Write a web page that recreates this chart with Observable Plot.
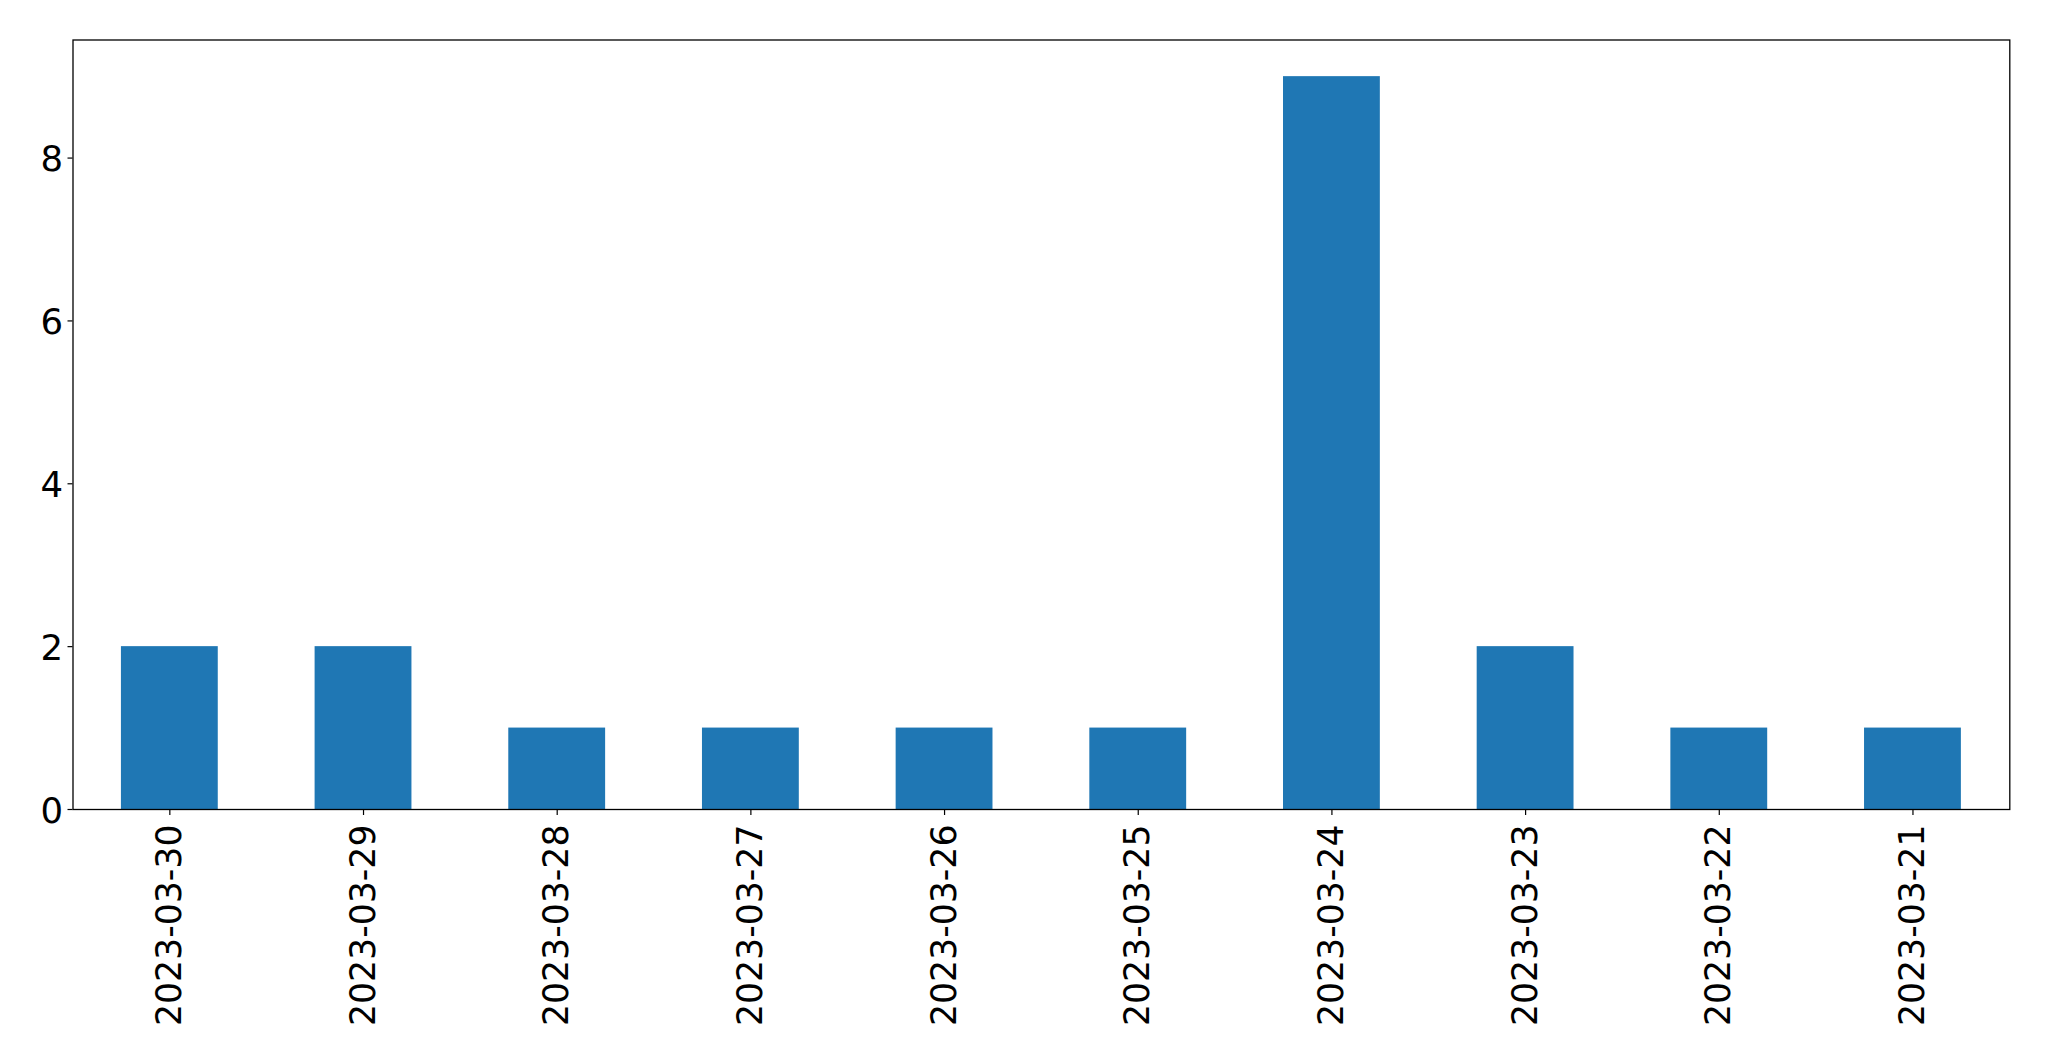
<!DOCTYPE html>
<html>
<head>
<meta charset="utf-8">
<script src="https://cdn.jsdelivr.net/npm/d3@7"></script>
<script src="https://cdn.jsdelivr.net/npm/@observablehq/plot@0.6"></script>
<style>
  html, body { margin: 0; padding: 0; background: #fff; }
  svg { display: block; }
</style>
</head>
<body>
<div id="chart"></div>
<script>
const dates = ["2023-03-30","2023-03-29","2023-03-28","2023-03-27","2023-03-26","2023-03-25","2023-03-24","2023-03-23","2023-03-22","2023-03-21"];
const counts = [2,2,1,1,1,1,9,2,1,1];
const yTicks = [0,2,4,6,8];

const data = dates.map((d, i) => ({date: d, count: counts[i]}));

const chart = Plot.plot({
  width: 2049,
  height: 1061,
  marginLeft: 72.5,
  marginRight: 39.7,
  marginTop: 39.5,
  marginBottom: 252,
  style: {fontFamily: "DejaVu Sans", fontSize: "34.7px", color: "#000", background: "#fff"},
  x: {type: "band", domain: dates, paddingInner: 0.5, paddingOuter: 0.25, align: 0.5, round: false},
  y: {domain: [0, 9.45]},
  marks: [
    Plot.barY(data, {x: "date", y: "count", fill: "#1f77b4"}),
    Plot.axisX({tickSize: 6, tickPadding: 9, tickRotate: -90, label: null, fontSize: 34.7, stroke: "#000", strokeWidth: 1.2}),
    Plot.axisY({ticks: yTicks, tickSize: 5, text: null, label: null, stroke: "#000", strokeWidth: 1.2}),
    Plot.axisY({ticks: yTicks, tickSize: 0, tickPadding: 10, label: null, fontSize: 35.5, dy: 2}),
    Plot.frame({stroke: "#000", strokeWidth: 1.3})
  ]
});
document.getElementById("chart").appendChild(chart);
</script>
</body>
</html>
